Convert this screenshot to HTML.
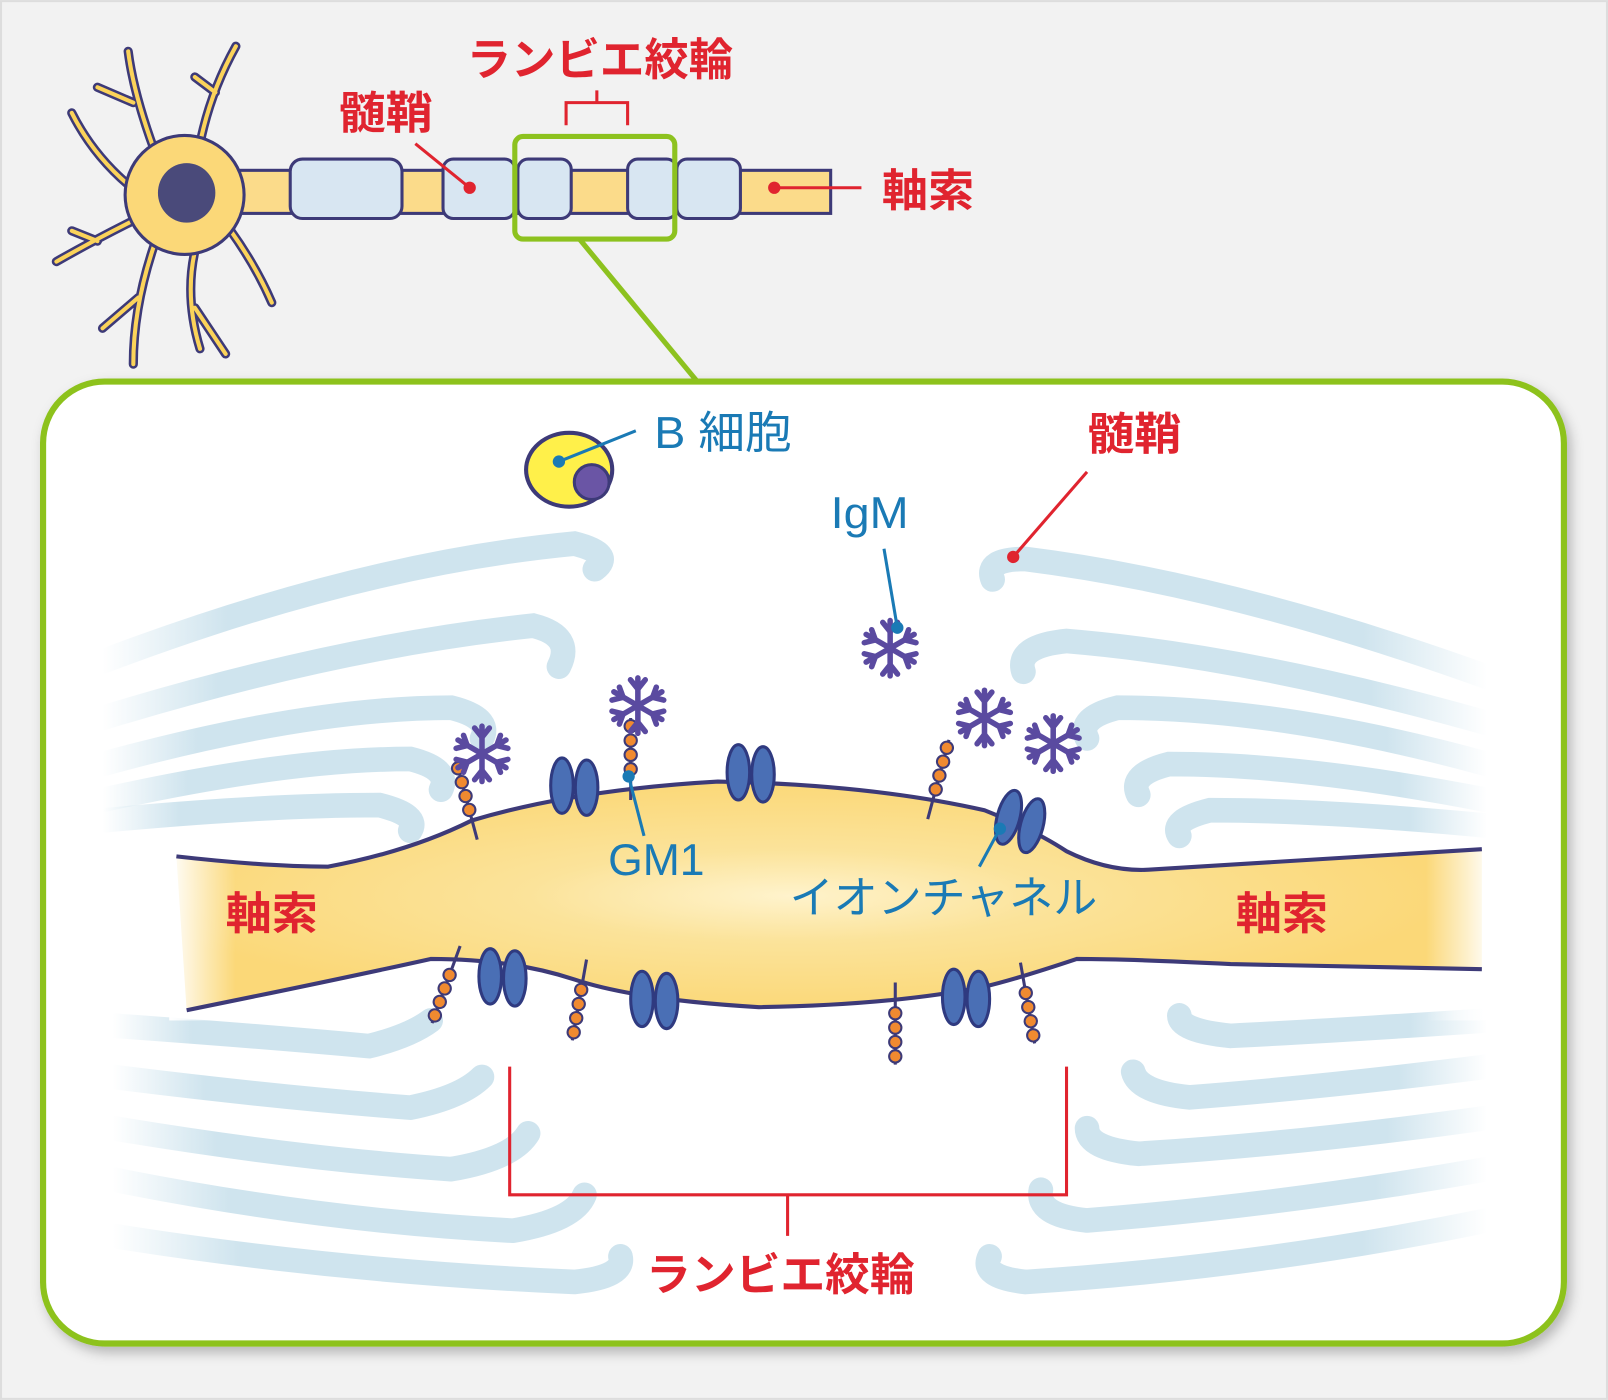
<!DOCTYPE html>
<html><head><meta charset="utf-8"><style>
html,body{margin:0;padding:0;background:#f2f2f2;}
svg{display:block}
text{font-family:"Liberation Sans","Noto Sans CJK JP",sans-serif;}
</style></head><body>
<svg width="1608" height="1400" viewBox="0 0 1568 1365" xmlns="http://www.w3.org/2000/svg">
<defs>
<linearGradient id="fadeL" x1="0" x2="1"><stop offset="0" stop-color="#cfe4ee" stop-opacity="0"/><stop offset="0.25" stop-color="#cfe4ee"/><stop offset="1" stop-color="#cfe4ee"/></linearGradient>
<linearGradient id="fadeR" x1="1" x2="0"><stop offset="0" stop-color="#cfe4ee" stop-opacity="0"/><stop offset="0.25" stop-color="#cfe4ee"/><stop offset="1" stop-color="#cfe4ee"/></linearGradient>
<radialGradient id="ax" cx="0.47" cy="0.5" r="0.5"><stop offset="0" stop-color="#fff3cc"/><stop offset="0.4" stop-color="#fbe39a"/><stop offset="1" stop-color="#fbd878"/></radialGradient>
<linearGradient id="axEdge" x1="0" x2="1"><stop offset="0" stop-color="#fff" stop-opacity="1"/><stop offset="0.05" stop-color="#fff" stop-opacity="0"/><stop offset="0.95" stop-color="#fff" stop-opacity="0"/><stop offset="1" stop-color="#fff" stop-opacity="1"/></linearGradient>
<filter id="sh" x="-5%" y="-5%" width="110%" height="110%"><feDropShadow dx="4" dy="6" stdDeviation="6" flood-color="#000" flood-opacity="0.25"/></filter>
<g id="star" stroke="#5a4aa0" stroke-width="6" stroke-linecap="round" fill="none">
<path d="M0 -30V30M-26 -15L26 15M-26 15L26 -15"/>
<path d="M-8 -28L0 -18L8 -28M-8 28L0 18L8 28M-28 -6L-16 -9L-20 -20M28 6L16 9L20 20M-28 6L-16 9L-20 20M28 -6L16 -9L20 -20"/>
</g>
<g id="chain"><line x1="0" y1="-40" x2="0" y2="40" stroke="#3d3a78" stroke-width="3"/>
<g fill="#f08a30" stroke="#3d3a78" stroke-width="2"><circle cx="0" cy="-32" r="6"/><circle cx="0" cy="-18" r="6"/><circle cx="0" cy="-4" r="6"/><circle cx="0" cy="10" r="6"/></g></g>
<g id="chan" fill="#4a6fb5" stroke="#2f3a80" stroke-width="3"><ellipse cx="-12" cy="0" rx="11" ry="27"/><ellipse cx="12" cy="2" rx="11" ry="27"/></g>
</defs>
<rect x="1" y="1" width="1566" height="1363" fill="#f2f2f2" stroke="#ddd" stroke-width="2"/>

<!-- top neuron -->
<g fill="none" stroke-linecap="round">
<g stroke="#3d3a78" stroke-width="9">
<path d="M150 145 Q130 90 125 50 M130 100 L95 85 M195 140 Q205 90 230 45 M210 90 L190 75 M125 180 Q90 150 70 110 M130 215 Q90 235 55 255 M95 235 L70 225 M150 240 Q130 300 130 355 M135 290 L100 320 M190 245 Q180 290 195 340 M190 300 L220 345 M225 225 Q250 260 265 295"/>
</g>
<g stroke="#fbd35a" stroke-width="4">
<path d="M150 145 Q130 90 125 50 M130 100 L95 85 M195 140 Q205 90 230 45 M210 90 L190 75 M125 180 Q90 150 70 110 M130 215 Q90 235 55 255 M95 235 L70 225 M150 240 Q130 300 130 355 M135 290 L100 320 M190 245 Q180 290 195 340 M190 300 L220 345 M225 225 Q250 260 265 295"/>
</g></g>
<rect x="230" y="166" width="580" height="42" fill="#fbdb8a" stroke="#3d3a78" stroke-width="3"/>
<circle cx="180" cy="190" r="58" fill="#fbd878" stroke="#3d3a78" stroke-width="3"/>
<ellipse cx="182" cy="188" rx="28" ry="29" fill="#4a4a7a"/>
<g fill="#d8e6f2" stroke="#3d3a78" stroke-width="3">
<rect x="283" y="155" width="109" height="58" rx="12"/>
<rect x="432" y="155" width="70" height="58" rx="10"/>
<rect x="505" y="155" width="52" height="58" rx="10"/>
<rect x="612" y="155" width="48" height="58" rx="10"/>
<rect x="660" y="155" width="62" height="58" rx="10"/>
</g>
<rect x="502" y="133" width="156" height="100" rx="8" fill="none" stroke="#8dc21f" stroke-width="5"/>
<line x1="565" y1="233" x2="680" y2="372" stroke="#8dc21f" stroke-width="5"/>
<g stroke="#e0242f" stroke-width="3" fill="none">
<path d="M552 122V100H612V122M582 100V88"/>
<line x1="405" y1="140" x2="458" y2="183"/><line x1="755" y1="183" x2="840" y2="183"/>
</g>
<g fill="#e0242f"><circle cx="458" cy="183" r="6"/><circle cx="755" cy="183" r="6"/></g>
<g fill="#e0242f" font-size="43" font-weight="bold">
<text x="455" y="73" textLength="260" lengthAdjust="spacingAndGlyphs">ランビエ絞輪</text>
<text x="330" y="125" textLength="92" lengthAdjust="spacingAndGlyphs">髄鞘</text>
<text x="860" y="201" textLength="90" lengthAdjust="spacingAndGlyphs">軸索</text>
</g>

<!-- big panel -->
<rect x="42" y="372" width="1483" height="938" rx="60" fill="#fff" stroke="#8dc21f" stroke-width="6" filter="url(#sh)"/>

<!-- myelin lamellae -->
<g fill="none" stroke-linecap="round" stroke-width="24">
<g stroke="url(#fadeL)">
<path d="M100 645 Q350 550 560 530 Q600 540 580 555"/>
<path d="M100 700 Q330 630 520 610 Q560 620 545 650"/>
<path d="M100 745 Q300 690 440 690 Q480 700 470 720"/>
<path d="M100 780 Q280 740 400 740 Q440 750 430 770"/>
<path d="M100 800 Q260 785 370 785 Q410 795 400 810"/>
<path d="M110 1000 Q250 1010 360 1020 Q400 1010 420 995"/>
<path d="M110 1050 Q270 1070 400 1080 Q450 1070 470 1050"/>
<path d="M110 1100 Q290 1130 440 1140 Q500 1130 515 1105"/>
<path d="M110 1150 Q310 1190 500 1200 Q560 1190 570 1165"/>
<path d="M110 1205 Q330 1240 560 1250 Q610 1245 605 1225"/>
</g>
<g stroke="url(#fadeR)">
<path d="M1450 660 Q1200 570 1000 545 Q960 545 968 565"/>
<path d="M1450 705 Q1220 640 1040 625 Q990 630 998 655"/>
<path d="M1450 745 Q1250 690 1090 690 Q1050 700 1060 720"/>
<path d="M1450 780 Q1270 745 1140 745 Q1100 755 1110 775"/>
<path d="M1450 805 Q1290 790 1180 790 Q1140 800 1150 815"/>
<path d="M1450 995 Q1300 1005 1200 1010 Q1150 1005 1150 990"/>
<path d="M1450 1040 Q1290 1060 1160 1070 Q1110 1065 1105 1045"/>
<path d="M1450 1090 Q1270 1115 1110 1125 Q1060 1120 1060 1100"/>
<path d="M1450 1140 Q1250 1175 1060 1190 Q1010 1185 1015 1160"/>
<path d="M1450 1190 Q1230 1235 1000 1250 Q955 1245 965 1225"/>
</g></g>

<!-- axon -->
<path d="M172 835 Q260 845 320 845 Q400 830 460 800 Q560 770 700 762 Q850 765 960 790 Q1010 810 1040 830 Q1080 850 1120 848 L1445 828 L1445 945 Q1300 940 1200 940 Q1100 935 1050 935 Q990 955 960 962 Q870 980 740 982 Q620 975 560 955 Q500 935 420 935 Q330 955 182 985 Z" fill="url(#ax)"/>
<rect x="165" y="820" width="1290" height="175" fill="url(#axEdge)"/>
<g fill="none" stroke="#3d3a78" stroke-width="4">
<path d="M172 835 Q260 845 320 845 Q400 830 460 800 Q560 770 700 762 Q850 765 960 790 Q1010 810 1040 830 Q1080 850 1120 848 L1445 828"/>
<path d="M182 985 Q330 955 420 935 Q500 935 560 955 Q620 975 740 982 Q870 980 960 962 Q990 955 1050 935 Q1100 935 1200 940 L1445 945"/>
</g>

<!-- channels -->
<use href="#chan" x="560" y="766"/>
<use href="#chan" x="732" y="753"/>
<use href="#chan" transform="translate(995 800) rotate(15)"/>
<use href="#chan" x="490" y="952"/>
<use href="#chan" x="638" y="974"/>
<use href="#chan" x="942" y="972"/>

<!-- GM1 chains -->
<use href="#chain" transform="translate(455 780) rotate(-15)"/>
<use href="#chain" transform="translate(615 740)"/>
<use href="#chain" transform="translate(915 760) rotate(15)"/>
<use href="#chain" transform="translate(435 960) rotate(200)"/>
<use href="#chain" transform="translate(565 975) rotate(190)"/>
<use href="#chain" transform="translate(873 998) rotate(180)"/>
<use href="#chain" transform="translate(1002 978) rotate(170)"/>

<!-- IgM stars -->
<use href="#star" transform="translate(470 735) scale(0.9)"/>
<use href="#star" transform="translate(622 688) scale(0.9)"/>
<use href="#star" transform="translate(868 632) scale(0.9)"/>
<use href="#star" transform="translate(960 700) scale(0.9)"/>
<use href="#star" transform="translate(1027 725) scale(0.9)"/>

<!-- B cell -->
<ellipse cx="555" cy="458" rx="42" ry="36" fill="#fff04a" stroke="#3d3a78" stroke-width="4"/>
<circle cx="577" cy="470" r="17" fill="#6a55a5" stroke="#3d3a78" stroke-width="3"/>

<!-- leader lines -->
<g stroke="#1a7ab5" stroke-width="3"><line x1="545" y1="450" x2="620" y2="420"/><line x1="862" y1="535" x2="875" y2="612"/><line x1="613" y1="757" x2="628" y2="815"/><line x1="975" y1="808" x2="955" y2="845"/></g>
<g fill="#1a7ab5"><circle cx="545" cy="450" r="6"/><circle cx="875" cy="612" r="6"/><circle cx="613" cy="757" r="6"/><circle cx="975" cy="808" r="6"/></g>
<line x1="1060" y1="460" x2="988" y2="543" stroke="#e0242f" stroke-width="3"/>
<circle cx="988" cy="543" r="6" fill="#e0242f"/>
<path d="M497 1040V1165H1040V1040M768 1165V1205" fill="none" stroke="#e0242f" stroke-width="3"/>

<g fill="#1a7ab5" font-size="43">
<text x="638" y="437" textLength="134" lengthAdjust="spacingAndGlyphs">B 細胞</text>
<text x="810" y="515" textLength="76" lengthAdjust="spacingAndGlyphs">IgM</text>
<text x="593" y="853" textLength="94" lengthAdjust="spacingAndGlyphs">GM1</text>
<text x="770" y="890" textLength="300" lengthAdjust="spacingAndGlyphs">イオンチャネル</text>
</g>
<g fill="#e0242f" font-size="43" font-weight="bold">
<text x="1060" y="438" textLength="92" lengthAdjust="spacingAndGlyphs">髄鞘</text>
<text x="220" y="906" textLength="90" lengthAdjust="spacingAndGlyphs">軸索</text>
<text x="1205" y="906" textLength="90" lengthAdjust="spacingAndGlyphs">軸索</text>
<text x="630" y="1258" textLength="262" lengthAdjust="spacingAndGlyphs">ランビエ絞輪</text>
</g>
</svg>
</body></html>
